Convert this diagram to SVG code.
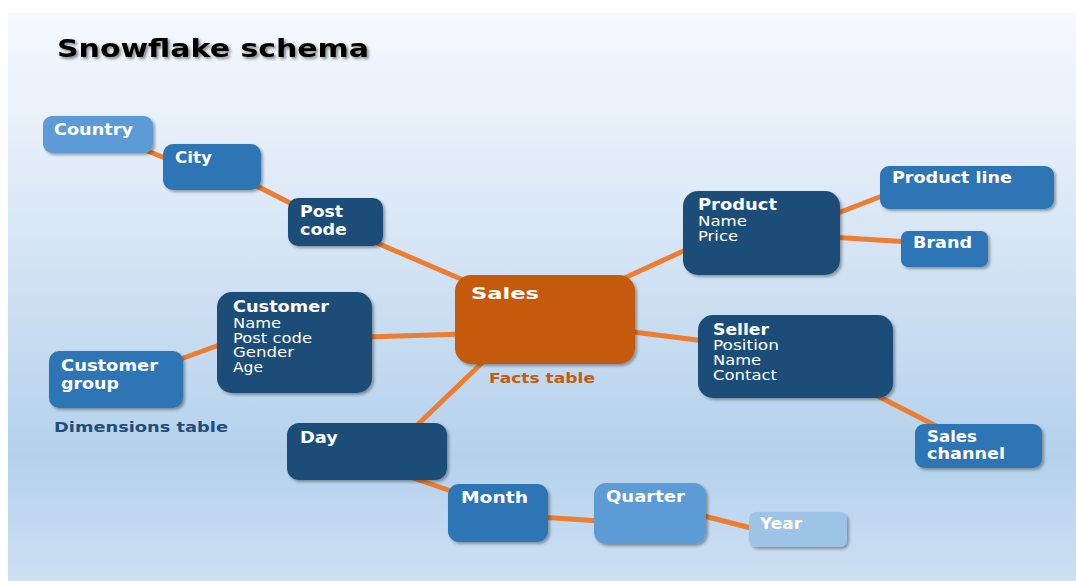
<svg xmlns="http://www.w3.org/2000/svg" width="1076" height="581" viewBox="0 0 1076 581">
<defs>
<linearGradient id="bg" x1="0" y1="0" x2="0" y2="1">
<stop offset="0" stop-color="#f6f9fe"/>
<stop offset="0.35" stop-color="#dbe8f6"/>
<stop offset="0.78" stop-color="#b4d1ec"/>
<stop offset="1" stop-color="#cde0f3"/>
</linearGradient>
<filter id="sh" x="-10%" y="-10%" width="130%" height="140%">
<feDropShadow dx="2" dy="2" stdDeviation="1.5" flood-color="#000" flood-opacity="0.35"/>
</filter>
<filter id="tsh" x="-5%" y="-20%" width="115%" height="160%">
<feDropShadow dx="2" dy="2" stdDeviation="1.5" flood-color="#000" flood-opacity="0.45"/>
</filter>
</defs>
<style>
.dark{fill:#1f4e79}
.mid{fill:#2e75b6}
.light{fill:#5b9bd5}
.lighter{fill:#9dc3e6}
.orange{fill:#c55a11}
.box{filter:url(#sh)}
.t{font-family:"DejaVu Sans",Verdana,sans-serif;font-weight:bold;font-size:15px;fill:#fff}
.a{font-family:"DejaVu Sans",Verdana,sans-serif;font-size:13.5px;fill:#fff}
.lbl{font-family:"DejaVu Sans",Verdana,sans-serif;font-weight:bold;font-size:14px}
.conn line{stroke:#ed7d31;stroke-width:5;stroke-linecap:round}
</style>
<rect x="0" y="0" width="1076" height="581" fill="#fff"/>
<rect x="8" y="13" width="1068" height="568" fill="url(#bg)"/>
<text x="57" y="57" font-family="DejaVu Sans,Verdana,sans-serif" font-weight="bold" font-size="25" fill="#000" filter="url(#tsh)" textLength="312" lengthAdjust="spacingAndGlyphs">Snowflake schema</text>
<g class="conn" id="connectors">
<line x1="140" y1="148" x2="175" y2="162"/>
<line x1="245" y1="180" x2="300" y2="208"/>
<line x1="370" y1="240" x2="475" y2="285"/>
<line x1="365" y1="337" x2="465" y2="334"/>
<line x1="175" y1="361" x2="225" y2="343"/>
<line x1="485" y1="360" x2="410" y2="432"/>
<line x1="410" y1="477" x2="460" y2="494"/>
<line x1="540" y1="517" x2="600" y2="521"/>
<line x1="700" y1="515" x2="755" y2="529"/>
<line x1="620" y1="280" x2="690" y2="248"/>
<line x1="830" y1="216" x2="890" y2="193"/>
<line x1="830" y1="237" x2="910" y2="242"/>
<line x1="625" y1="331" x2="705" y2="341"/>
<line x1="870" y1="392" x2="940" y2="428"/>
</g>
<g id="country"><rect class="box light" x="43" y="116" width="110" height="37" rx="9"/><text class="t" x="54" y="135" textLength="79" lengthAdjust="spacingAndGlyphs">Country</text></g>
<g id="city"><rect class="box mid" x="163" y="144" width="98" height="46" rx="10"/><text class="t" x="175" y="163" textLength="37" lengthAdjust="spacingAndGlyphs">City</text></g>
<g id="postcode"><rect class="box dark" x="288" y="198" width="95" height="48" rx="10"/><text class="t" x="300" y="217" textLength="43" lengthAdjust="spacingAndGlyphs">Post</text><text class="t" x="300" y="235" textLength="47" lengthAdjust="spacingAndGlyphs">code</text></g>
<g id="sales"><rect class="box orange" x="455" y="275" width="180" height="89" rx="16"/><text class="t" x="471" y="299" font-size="18" textLength="68" lengthAdjust="spacingAndGlyphs">Sales</text></g>
<text class="lbl" x="489" y="383" fill="#c55a11" textLength="106" lengthAdjust="spacingAndGlyphs">Facts table</text>
<g id="customer"><rect class="box dark" x="217" y="292" width="155" height="101" rx="15"/>
<text class="t" x="233" y="312" textLength="96" lengthAdjust="spacingAndGlyphs">Customer</text>
<text class="a" x="233" y="328" textLength="48" lengthAdjust="spacingAndGlyphs">Name</text>
<text class="a" x="233" y="343" textLength="79" lengthAdjust="spacingAndGlyphs">Post code</text>
<text class="a" x="233" y="357" textLength="61" lengthAdjust="spacingAndGlyphs">Gender</text>
<text class="a" x="233" y="372" textLength="30" lengthAdjust="spacingAndGlyphs">Age</text></g>
<g id="customergroup"><rect class="box mid" x="49" y="351" width="134" height="57" rx="10"/><text class="t" x="61" y="371" textLength="97" lengthAdjust="spacingAndGlyphs">Customer</text><text class="t" x="61" y="389" textLength="58" lengthAdjust="spacingAndGlyphs">group</text></g>
<text class="lbl" x="54" y="432" fill="#1f4e79" textLength="174" lengthAdjust="spacingAndGlyphs">Dimensions table</text>
<g id="day"><rect class="box dark" x="287" y="423" width="160" height="57" rx="12"/><text class="t" x="300" y="443" textLength="38" lengthAdjust="spacingAndGlyphs">Day</text></g>
<g id="month"><rect class="box mid" x="448" y="484" width="100" height="58" rx="11"/><text class="t" x="461" y="503" textLength="67" lengthAdjust="spacingAndGlyphs">Month</text></g>
<g id="quarter"><rect class="box light" x="594" y="483" width="112" height="61" rx="12"/><text class="t" x="606" y="502" textLength="79" lengthAdjust="spacingAndGlyphs">Quarter</text></g>
<g id="year"><rect class="box lighter" x="749" y="512" width="98" height="35" rx="7"/><text class="t" x="760" y="529" textLength="42" lengthAdjust="spacingAndGlyphs">Year</text></g>
<g id="product"><rect class="box dark" x="683" y="191" width="157" height="84" rx="15"/>
<text class="t" x="698" y="210" textLength="79" lengthAdjust="spacingAndGlyphs">Product</text>
<text class="a" x="698" y="226" textLength="49" lengthAdjust="spacingAndGlyphs">Name</text>
<text class="a" x="698" y="241" textLength="40" lengthAdjust="spacingAndGlyphs">Price</text></g>
<g id="productline"><rect class="box mid" x="880" y="166" width="174" height="43" rx="9"/><text class="t" x="892" y="183" textLength="120" lengthAdjust="spacingAndGlyphs">Product line</text></g>
<g id="brand"><rect class="box mid" x="901" y="231" width="87" height="36" rx="7"/><text class="t" x="913" y="248" textLength="59" lengthAdjust="spacingAndGlyphs">Brand</text></g>
<g id="seller"><rect class="box dark" x="698" y="315" width="195" height="83" rx="15"/>
<text class="t" x="713" y="335" textLength="56" lengthAdjust="spacingAndGlyphs">Seller</text>
<text class="a" x="713" y="350" textLength="66" lengthAdjust="spacingAndGlyphs">Position</text>
<text class="a" x="713" y="365" textLength="48" lengthAdjust="spacingAndGlyphs">Name</text>
<text class="a" x="713" y="380" textLength="64" lengthAdjust="spacingAndGlyphs">Contact</text></g>
<g id="saleschannel"><rect class="box mid" x="915" y="424" width="127" height="44" rx="9"/><text class="t" x="927" y="442" textLength="50" lengthAdjust="spacingAndGlyphs">Sales</text><text class="t" x="927" y="459" textLength="78" lengthAdjust="spacingAndGlyphs">channel</text></g>
</svg>
